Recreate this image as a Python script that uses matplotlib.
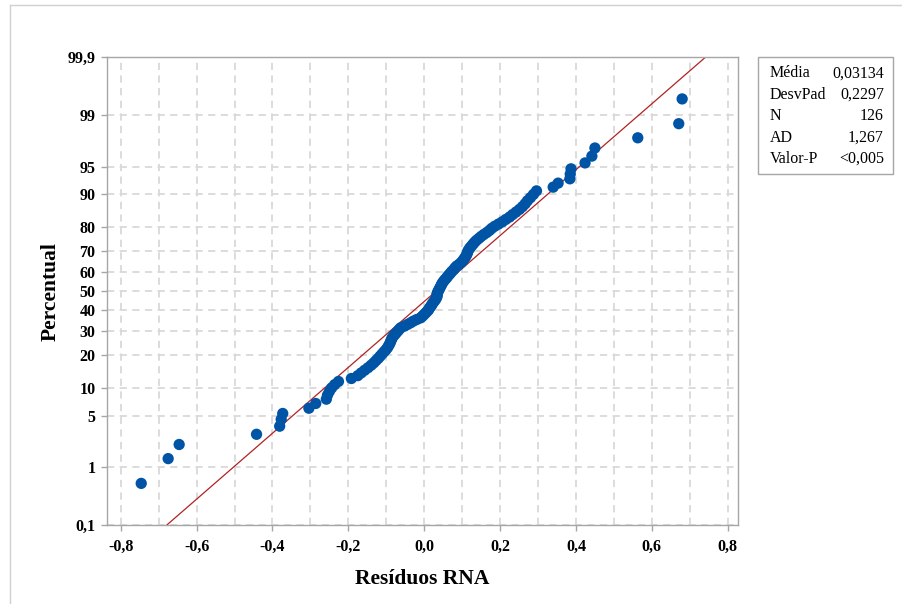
import numpy as np
import matplotlib
matplotlib.use("Agg")
import matplotlib.pyplot as plt
from matplotlib.lines import Line2D
from matplotlib.patches import Rectangle
from statistics import NormalDist

# ---------------- data ----------------
residuals = [
    -0.746, -0.675, -0.646, -0.442, -0.381, -0.377, -0.373, -0.304, -0.286, -0.258,
    -0.255, -0.250, -0.244, -0.236, -0.226, -0.192, -0.175, -0.166, -0.157, -0.148,
    -0.140, -0.133, -0.127, -0.121, -0.116, -0.111, -0.106, -0.101, -0.097, -0.094,
    -0.091, -0.089, -0.087, -0.085, -0.082, -0.078, -0.074, -0.070, -0.066, -0.062,
    -0.052, -0.044, -0.036, -0.029, -0.020, -0.010, -0.005, -0.001, 0.003, 0.007,
    0.011, 0.013, 0.016, 0.019, 0.021, 0.024, 0.027, 0.030, 0.032, 0.034,
    0.034, 0.034, 0.036, 0.038, 0.040, 0.042, 0.044, 0.046, 0.048, 0.051,
    0.054, 0.058, 0.061, 0.064, 0.068, 0.071, 0.075, 0.079, 0.082, 0.086,
    0.092, 0.097, 0.101, 0.104, 0.107, 0.110, 0.112, 0.114, 0.115, 0.118,
    0.121, 0.125, 0.129, 0.133, 0.138, 0.144, 0.150, 0.157, 0.165, 0.172,
    0.178, 0.186, 0.196, 0.206, 0.215, 0.225, 0.233, 0.242, 0.251, 0.259,
    0.266, 0.272, 0.280, 0.288, 0.296, 0.340, 0.353, 0.384, 0.385, 0.387,
    0.424, 0.442, 0.450, 0.563, 0.671, 0.680,
]
fit_mean = 0.03134
fit_sd = 0.2297
stats_labels = ["Média", "DesvPad", "N", "AD", "Valor-P"]
stats_values = ["0,03134", "0,2297", "126", "1,267", "<0,005"]
y_ticks = [0.1, 1, 5, 10, 20, 30, 40, 50, 60, 70, 80, 90, 95, 99, 99.9]
y_tick_labels = ["0,1", "1", "5", "10", "20", "30", "40", "50", "60", "70",
                 "80", "90", "95", "99", "99,9"]
x_ticks = [-0.8, -0.6, -0.4, -0.2, 0.0, 0.2, 0.4, 0.6, 0.8]
x_tick_labels = ["-0,8", "-0,6", "-0,4", "-0,2", "0,0", "0,2", "0,4", "0,6", "0,8"]
x_label = "Resíduos RNA"
y_label = "Percentual"

# ---------------- probability scale ----------------
ND = NormalDist()
_ppf = np.vectorize(ND.inv_cdf, otypes=[float])
_cdf = np.vectorize(ND.cdf, otypes=[float])


def fwd(p):
    p = np.clip(np.asarray(p, dtype=float), 1e-7, 100 - 1e-7)
    return _ppf(p / 100.0)


def inv(z):
    return _cdf(np.asarray(z, dtype=float)) * 100.0


n = len(residuals)
x_sorted = np.sort(np.array(residuals))
ranks = np.arange(1, n + 1)
percent = (ranks - 0.3) / (n + 0.4) * 100.0

# ---------------- figure ----------------
serif = ["Liberation Serif", "DejaVu Serif"]
plt.rcParams["font.family"] = serif

fig = plt.figure(figsize=(9.02, 6.04), dpi=100)
W, H = 902.0, 604.0
ax_l, ax_r, ax_t, ax_b = 106.7, 738.3, 57.3, 525.0
ax = fig.add_axes([ax_l / W, 1 - ax_b / H, (ax_r - ax_l) / W, (ax_b - ax_t) / H])

ax.set_yscale("function", functions=(fwd, inv))
ax.set_ylim(0.1, 99.9)
ax.set_xlim(-0.837, 0.828)

grid_col = "#d9d9d9"
gls = (0, (4, 3))
ax.set_axisbelow(True)
ax.set_xticks(x_ticks)
ax.set_xticklabels(x_tick_labels)
ax.set_xticks(np.arange(-0.8, 0.81, 0.1), minor=True)
ax.set_yticks(y_ticks)
ax.set_yticklabels(y_tick_labels)
ax.set_yticks([], minor=True)
ax.grid(True, which="major", axis="y", color=grid_col, lw=1.3, linestyle=gls)
ax.grid(True, which="both", axis="x", color=grid_col, lw=1.3, linestyle=gls)

spine_col = "#a6a6a6"
for s in ax.spines.values():
    s.set_color(spine_col)
    s.set_linewidth(1.0)
ax.tick_params(axis="both", which="major", color=spine_col, length=4, width=1,
               labelsize=11.5, pad=4)
ax.tick_params(axis="x", which="major", pad=6)
ax.tick_params(axis="both", which="minor", length=0)
for lab in ax.get_xticklabels() + ax.get_yticklabels():
    lab.set_fontweight("bold")

# fitted line
line_p = np.array([0.1, 99.9])
line_x = fit_mean + fit_sd * fwd(line_p)
ax.plot(line_x, line_p, color="#b22222", lw=0.9, zorder=2)

# points
ax.scatter(x_sorted, percent, s=66, color="#0054a6", edgecolors="none", zorder=3,
           clip_on=False)

ax.set_xlabel(x_label, fontsize=15.5, fontweight="bold", labelpad=10)
ax.set_ylabel(y_label, fontsize=15.5, fontweight="bold", labelpad=5)

# stats box
bx_l, bx_r, bx_t, bx_b = 758.3, 892.7, 57.3, 174.3
fig.add_artist(Rectangle((bx_l / W, 1 - bx_b / H), (bx_r - bx_l) / W, (bx_b - bx_t) / H,
                         transform=fig.transFigure, facecolor="white",
                         edgecolor="#a6a6a6", lw=1.0))
row_y = [73.3, 94.6, 116.0, 137.5, 159.0]
for lab, val, yy in zip(stats_labels, stats_values, row_y):
    fig.text(770 / W, 1 - yy / H, lab, ha="left", va="center", fontsize=11.5)
    fig.text(884 / W, 1 - yy / H, val, ha="right", va="center", fontsize=11.5)

# outer frame lines (top and left)
frame_col = "#d0d0d0"
fig.add_artist(Line2D([10 / W, 1.0], [1 - 5 / H, 1 - 5 / H], transform=fig.transFigure,
                      color=frame_col, lw=1.0))
fig.add_artist(Line2D([10 / W, 10 / W], [0.0, 1 - 5 / H], transform=fig.transFigure,
                      color=frame_col, lw=1.0))

fig.savefig("out.png", dpi=100)
